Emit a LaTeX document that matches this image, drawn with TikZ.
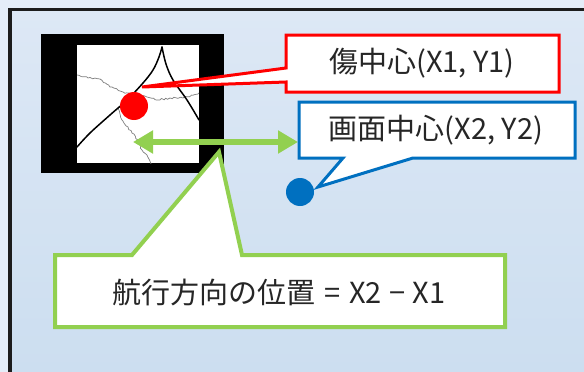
\documentclass[tikz,border=0pt]{standalone}
\usepackage{fontspec}
\newfontfamily\jp{Noto Sans CJK JP}
\usetikzlibrary{arrows.meta,decorations.pathmorphing}

\definecolor{pageout}{HTML}{E4EDF8}
\definecolor{panetop}{HTML}{DDE8F5}
\definecolor{panebot}{HTML}{CCDEF0}
\definecolor{frameblk}{HTML}{1C1C1C}
\definecolor{hurtred}{HTML}{FF0000}
\definecolor{ctrblue}{HTML}{0070C0}
\definecolor{navgreen}{HTML}{92D050}
\definecolor{txtgray}{HTML}{262626}
\definecolor{crackgray}{HTML}{7F7F7F}

\tikzset{
  lbl/.style={font=\jp\fontsize{29}{32}\selectfont, text=txtgray, inner sep=0pt},
  calloutbox/.style={fill=white, line join=miter},
  bigcrack/.style={draw=black, line width=1.5pt, line cap=round, line join=round},
  finecrack/.style={draw=crackgray, line width=0.7pt,
    decorate, decoration={random steps, segment length=2.2pt, amplitude=0.9pt}},
}

\begin{document}
\begin{tikzpicture}[x=1pt, y=-1pt]
\useasboundingbox (0,0) rectangle (584,372);

% page and panel
\fill[pageout] (0,0) rectangle (584,372);
\shade[top color=panetop, bottom color=panebot] (10,9.5) rectangle (584,372);
\draw[frameblk, line width=3.5pt] (584,9.5) -- (10,9.5) -- (10,372);

% camera frame with the cracked surface
\fill[black] (41,34) rectangle (224,173);
\fill[white] (77,45) rectangle (199,163);
\begin{scope}
  \clip (77,45) rectangle (199,163);
  \pgfmathsetseed{7}
  \draw[finecrack] (77,75) -- (88,78) -- (100,79) -- (110,87) -- (123,92) -- (133,95)
    -- (147,97) -- (157,100) -- (170,98) -- (183,98) -- (199,93);
  \draw[finecrack] (118,107) -- (122,120) -- (128,127) -- (132,133) -- (138,140)
    -- (142,150) -- (147,155) -- (151,164);
  \draw[bigcrack] plot[smooth, tension=0.6] coordinates
    {(77,147) (90,133) (110,115) (127,100) (143,83) (153,70) (159,57) (162,47)};
  \draw[bigcrack] plot[smooth, tension=0.6] coordinates
    {(162,47) (166,64) (173,80) (187,100) (199,120)};
\end{scope}

% distance along the travel direction
\coordinate (arrL) at (133,142);
\coordinate (arrR) at (298,142);
\draw[navgreen, line width=6pt, {Triangle[length=20pt,width=22pt]}-{Triangle[length=20pt,width=22pt]}]
  (arrL) -- (arrR);

% damage centre callout
\draw[hurtred, line width=3pt, calloutbox]
  (286,35) -- (559,35) -- (559,92) -- (286,92) -- (286,82) -- (142,87) -- (286,68) -- cycle;
\node[lbl] (hurt) at (422,63) {傷中心(X1, Y1)};
\fill[hurtred] (134,106) circle (14);

% screen centre callout
\draw[ctrblue, line width=3pt, calloutbox]
  (299,102) -- (575,102) -- (575,158) -- (413,158) -- (318,187) -- (343,158) -- (299,158) -- cycle;
\node[lbl] (ctr) at (436,130) {画面中心(X2, Y2)};
\fill[ctrblue] (300,192) circle (14);

% position along the travel direction
\draw[navgreen, line width=4pt, calloutbox]
  (55,255) -- (132,255) -- (219,152) -- (242,255) -- (505,255) -- (505,327) -- (55,327) -- cycle;
\node[lbl] (pos) at (279,292) {航行方向の位置\hspace{0.3em}=\hspace{0.3em}X2\hspace{0.25em}−\hspace{0.25em}X1};
\end{tikzpicture}
\end{document}
